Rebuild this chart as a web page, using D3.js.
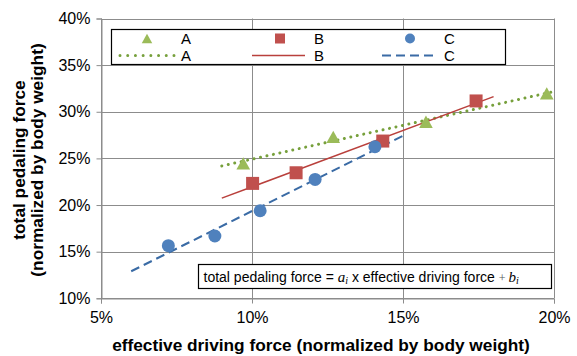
<!DOCTYPE html>
<html><head><meta charset="utf-8">
<script src="https://cdn.jsdelivr.net/npm/d3@7"></script>
<style>body{margin:0;background:#fff}svg{display:block}text{font-family:Arial,"Liberation Sans",sans-serif}</style>
</head><body><svg id="c" width="577" height="356"></svg>
<script>
// data (percent of body weight)
const seriesNames = ["A", "B", "C"];
const xA = [9.71, 12.69, 15.76, 19.76];
const yA = [24.47, 27.30, 28.93, 31.97];
const xB = [10.02, 11.46, 14.33, 17.42];
const yB = [22.32, 23.46, 26.86, 31.16];
const xC = [7.23, 8.77, 10.27, 12.09, 14.07];
const yC = [15.64, 16.68, 19.39, 22.75, 26.25];
const trendRangeA = [9, 20];
const trendRangeB = [9, 18];
const trendRangeC = [6, 15];
const xTicks = [5, 10, 15, 20];
const yTicks = [10, 15, 20, 25, 30, 35, 40];

const W = 577, H = 356;
const m = {l: 101, r: 23, t: 18.5, b: 57.7};
const svg = d3.select("#c");
const x = d3.scaleLinear().domain([5, 20]).range([m.l, W - m.r]);
const y = d3.scaleLinear().domain([10, 40]).range([H - m.b, m.t]);
const grid = "#8c8c8c";

// gridlines
svg.append("g").selectAll("line.h").data(yTicks).join("line")
  .attr("x1", m.l).attr("x2", W - m.r)
  .attr("y1", d => Math.round(y(d)) + 0.5).attr("y2", d => Math.round(y(d)) + 0.5)
  .attr("stroke", grid).attr("stroke-width", 1);
svg.append("g").selectAll("line.v").data(xTicks).join("line")
  .attr("y1", m.t).attr("y2", H - m.b)
  .attr("x1", d => Math.round(x(d)) + 0.5).attr("x2", d => Math.round(x(d)) + 0.5)
  .attr("stroke", grid).attr("stroke-width", 1);

// axes
const fmt = d => d + "%";
const ax = svg.append("g").attr("transform", `translate(0,${Math.round(y(10)) + 0.5})`)
  .call(d3.axisBottom(x).tickValues(xTicks).tickFormat(fmt).tickSize(5).tickPadding(4));
const ay = svg.append("g").attr("transform", `translate(${Math.round(x(5)) + 0.5},0)`)
  .call(d3.axisLeft(y).tickValues(yTicks).tickFormat(fmt).tickSize(5).tickPadding(6));
[ax, ay].forEach(g => {
  g.select(".domain").attr("stroke", grid);
  g.selectAll(".tick line").attr("stroke", grid);
  g.selectAll(".tick text").attr("fill", "#000").style("font-size", "16px")
    .style("font-family", "Arial, 'Liberation Sans', sans-serif");
});
ax.selectAll(".tick text").attr("dy", "0.95em");

// regression
function fit(xs, ys) {
  const mx = d3.mean(xs), my = d3.mean(ys);
  let sxy = 0, sxx = 0;
  xs.forEach((v, i) => { sxy += (v - mx) * (ys[i] - my); sxx += (v - mx) * (v - mx); });
  const a = sxy / sxx; return {a, b: my - a * mx};
}
const colors = {A: "#9BBB59", B: "#C0504D", C: "#4F81BD"};
const lineColors = {A: "#77A03C", B: "#B9403C", C: "#3A6BA5"};
const data = {
  A: {xs: xA, ys: yA, r: trendRangeA},
  B: {xs: xB, ys: yB, r: trendRangeB},
  C: {xs: xC, ys: yC, r: trendRangeC}
};
const lineStyle = {
  A: {w: 3, dash: "0.01 6.6", cap: "round"},
  B: {w: 1.5, dash: null, cap: "butt"},
  C: {w: 2, dash: "9 5", cap: "butt"}
};
function marker(g, name, cx, cy, s) {
  if (name === "A") {
    const h = s * 0.95, w = s * 1.05;
    g.append("path").attr("d", `M${cx},${cy - h / 2}L${cx + w / 2},${cy + h / 2}L${cx - w / 2},${cy + h / 2}Z`)
      .attr("fill", colors.A);
  } else if (name === "B") {
    g.append("rect").attr("x", cx - s / 2).attr("y", cy - s / 2).attr("width", s).attr("height", s)
      .attr("fill", colors.B);
  } else {
    g.append("circle").attr("cx", cx).attr("cy", cy).attr("r", s / 2).attr("fill", colors.C);
  }
}
const plot = svg.append("g");
seriesNames.forEach(n => {
  const d = data[n], f = fit(d.xs, d.ys), st = lineStyle[n];
  const pts = d.r.map(v => [x(v), y(f.a * v + f.b)]);
  plot.append("path").attr("d", d3.line()(pts)).attr("fill", "none")
    .attr("stroke", lineColors[n]).attr("stroke-width", st.w)
    .attr("stroke-dasharray", st.dash).attr("stroke-linecap", st.cap);
});
seriesNames.forEach(n => {
  const d = data[n];
  d.xs.forEach((v, i) => marker(plot, n, x(v), y(d.ys[i]), 13));
});

// legend
const lg = svg.append("g");
lg.append("rect").attr("x", 111.5).attr("y", 29.5).attr("width", 394).attr("height", 35)
  .attr("fill", "#fff").attr("stroke", "#000").attr("stroke-width", 1.2);
const legX = {A: 119, B: 252, C: 382};
seriesNames.forEach(n => {
  const x0 = legX[n];
  marker(lg, n, x0 + 28, 38.5, 10);
  const st = lineStyle[n];
  lg.append("line").attr("x1", x0 + (n === "A" ? 1 : 0)).attr("x2", x0 + (n === "A" ? 55 : 53))
    .attr("y1", 55.5).attr("y2", 55.5)
    .attr("stroke", lineColors[n]).attr("stroke-width", st.w)
    .attr("stroke-dasharray", n === "A" ? "0.01 7.7" : st.dash).attr("stroke-linecap", st.cap);
  lg.append("text").attr("x", x0 + 62).attr("y", 43.8).text(n).style("font-size", "15px");
  lg.append("text").attr("x", x0 + 62).attr("y", 61.2).text(n).style("font-size", "15px");
});

// equation box
const eq = svg.append("g");
eq.append("rect").attr("x", 198.5).attr("y", 264.5).attr("width", 353).attr("height", 24)
  .attr("fill", "#fff").attr("stroke", "#000").attr("stroke-width", 1.2);
const t = eq.append("text").attr("x", 203.5).attr("y", 282).style("font-size", "14px");
t.append("tspan").text("total pedaling force = ");
t.append("tspan").text("a").style("font-family", "'Liberation Serif','DejaVu Serif',serif").style("font-style", "italic").style("font-size", "15px");
t.append("tspan").text("i").attr("dy", 2).style("font-family", "'Liberation Serif',serif").style("font-style", "italic").style("font-size", "10px");
t.append("tspan").text(" x effective driving force ").attr("dy", -2);
t.append("tspan").text("+ ").style("font-family", "'Liberation Serif',serif").style("font-size", "12px").attr("fill", "#555");
t.append("tspan").text("b").style("font-family", "'Liberation Serif',serif").style("font-style", "italic").style("font-size", "15px");
t.append("tspan").text("i").attr("dy", 2).style("font-family", "'Liberation Serif',serif").style("font-style", "italic").style("font-size", "10px");

// axis titles
svg.append("text").attr("x", 321).attr("y", 351).attr("text-anchor", "middle")
  .style("font-size", "17.3px").style("font-weight", "bold")
  .text("effective driving force (normalized by body weight)");
const yt = svg.append("text").attr("transform", "translate(0,160) rotate(-90)")
  .attr("text-anchor", "middle").style("font-size", "17.3px").style("font-weight", "bold");
yt.append("tspan").attr("x", 0).attr("y", 24.5).text("total pedaling force");
yt.append("tspan").attr("x", 0).attr("y", 42.5).text("(normalized by body weight)");
</script></body></html>
